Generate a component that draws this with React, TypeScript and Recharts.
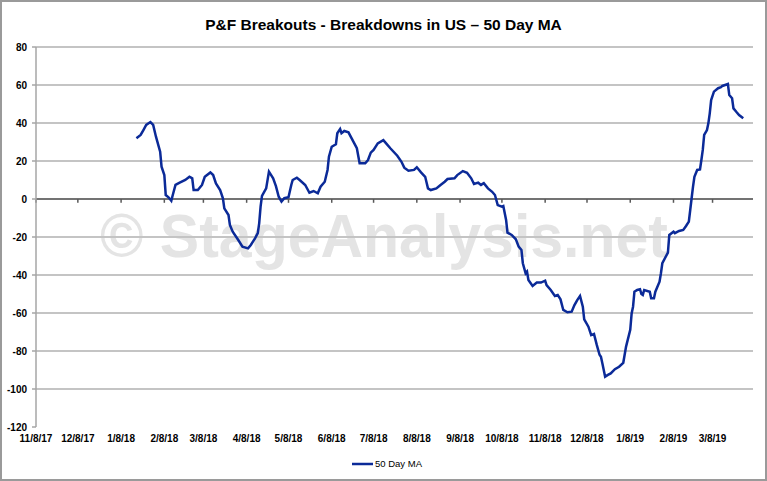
import React from "react";
import { LineChart, Line, XAxis, YAxis, ReferenceLine, CartesianGrid } from "recharts";

const title = "P&F Breakouts - Breakdowns in US \u2013 50 Day MA";
const seriesName = "50 Day MA";
const watermark = "\u00A9 StageAnalysis.net";

const axisStart = "11/8/17";
const axisEnd = "4/6/19";
const xTickDates = [
  "11/8/17", "12/8/17", "1/8/18", "2/8/18", "3/8/18", "4/8/18", "5/8/18", "6/8/18", "7/8/18",
  "8/8/18", "9/8/18", "10/8/18", "11/8/18", "12/8/18", "1/8/19", "2/8/19", "3/8/19",
];
const yTicks = [-120, -100, -80, -60, -40, -20, 0, 20, 40, 60, 80];
const gridValues = [-100, -80, -60, -40, -20, 0, 20, 40, 60, 80];

const dates = [
  "1/19/18", "1/22/18", "1/24/18", "1/26/18", "1/29/18", "1/31/18",
  "2/2/18", "2/5/18", "2/6/18", "2/8/18", "2/9/18", "2/11/18", "2/13/18", "2/14/18", "2/16/18", "2/19/18", "2/23/18", "2/26/18", "2/28/18",
  "3/1/18", "3/4/18", "3/7/18", "3/9/18", "3/13/18", "3/15/18", "3/17/18", "3/20/18", "3/22/18", "3/23/18", "3/26/18", "3/27/18", "3/29/18",
  "4/2/18", "4/5/18", "4/9/18", "4/11/18", "4/14/18", "4/16/18", "4/17/18", "4/18/18", "4/19/18", "4/22/18", "4/24/18", "4/27/18", "4/29/18",
  "5/1/18", "5/3/18", "5/5/18", "5/8/18", "5/10/18", "5/11/18", "5/14/18", "5/16/18", "5/20/18", "5/23/18", "5/26/18", "5/29/18", "5/31/18",
  "6/3/18", "6/5/18", "6/6/18", "6/8/18", "6/11/18", "6/12/18", "6/14/18", "6/15/18", "6/17/18", "6/20/18", "6/22/18", "6/26/18", "6/28/18",
  "7/2/18", "7/4/18", "7/6/18", "7/8/18", "7/11/18", "7/15/18", "7/17/18", "7/20/18", "7/25/18", "7/28/18", "7/30/18",
  "8/2/18", "8/6/18", "8/8/18", "8/11/18", "8/14/18", "8/16/18", "8/18/18", "8/22/18", "8/25/18", "8/28/18", "8/30/18",
  "9/4/18", "9/6/18", "9/10/18", "9/13/18", "9/16/18", "9/18/18", "9/21/18", "9/23/18", "9/25/18", "9/28/18",
  "10/1/18", "10/3/18", "10/5/18", "10/8/18", "10/9/18", "10/11/18", "10/12/18", "10/15/18", "10/18/18", "10/20/18", "10/22/18", "10/23/18", "10/25/18", "10/26/18", "10/27/18", "10/30/18",
  "11/2/18", "11/5/18", "11/8/18", "11/9/18", "11/12/18", "11/15/18", "11/17/18", "11/19/18", "11/21/18", "11/24/18", "11/27/18", "11/29/18",
  "12/1/18", "12/3/18", "12/5/18", "12/6/18", "12/9/18", "12/11/18", "12/13/18", "12/15/18", "12/17/18", "12/18/18", "12/19/18", "12/21/18", "12/23/18", "12/25/18", "12/28/18", "12/31/18",
  "1/3/19", "1/5/19", "1/8/19", "1/9/19", "1/10/19", "1/11/19", "1/13/19", "1/15/19", "1/16/19", "1/17/19", "1/18/19", "1/22/19", "1/23/19", "1/25/19", "1/26/19", "1/29/19", "1/30/19", "1/31/19",
  "2/4/19", "2/5/19", "2/8/19", "2/9/19", "2/12/19", "2/15/19", "2/17/19", "2/19/19", "2/20/19", "2/21/19", "2/22/19", "2/23/19", "2/25/19", "2/27/19", "2/28/19",
  "3/1/19", "3/2/19", "3/4/19", "3/5/19", "3/6/19", "3/7/19", "3/9/19", "3/12/19", "3/14/19", "3/15/19", "3/17/19", "3/19/19", "3/20/19", "3/22/19", "3/23/19", "3/25/19", "3/27/19", "3/30/19",
];

const ma50 = [
  32, 33.7, 36.3, 39, 40.5, 39,
  32.8, 24.9, 17, 12.6, 2.1, 0.9, -0.9, 2, 7.4, 8.6, 10, 11.7, 10.9,
  4.7, 4.7, 7.4, 11.7, 14, 12.6, 8.2, 4.7, 0.4, -4.9, -8.4, -13.7, -17.2,
  -21.6, -25.1, -26, -24.2, -20.7, -18, -12.8, -4, 1.6, 5.6, 14.4, 10.9, 6.8,
  1.2, -1.4, 0.4, 0.9, 7.4, 10, 11.2, 10, 7.4, 3.3, 4.2, 3, 6.5,
  9.1, 15.3, 22.3, 27.5, 28.8, 34.6, 36.8, 34.6, 35.8, 35.1, 32.3, 26.7, 18.8,
  18.8, 20.5, 24.4, 25.8, 29.3, 31, 29.3, 26.7, 22.8, 19.6, 16.5,
  14.9, 15.3, 16.7, 14, 11.7, 5.6, 4.7, 5.6, 7.4, 9.1, 10.5,
  10.9, 12.6, 14.7, 13.8, 10.9, 7.9, 8.6, 7.4, 8.3, 5.6,
  3.8, 2.1, -3.2, -4, -3.7, -11, -17.7, -18.9, -21.2, -25.1, -26.8, -33.8, -39.1, -38.2, -42.6, -45.8,
  -44, -44, -43, -45.3, -47.9, -51, -50.5, -52.8, -58.4, -59.6, -59.3, -55.8,
  -53.2, -51, -56.7, -63.3, -67.2, -71.6, -71, -76.8, -82, -83, -86.5, -93.5, -92.6, -91.8, -89.6, -88.3,
  -86.2, -77.7, -68.9, -60.2, -56.7, -48.8, -47.9, -47.5, -50, -50.5, -47.9, -48.8, -52.3, -52.3, -48.8, -43.5, -39.1, -33.8,
  -28.2, -18.9, -17.2, -18, -16.8, -16.3, -14.2, -11.9, -5.8, 0.4, 6.5, 11.7, 15.3, 15.6, 20.5,
  25.8, 33.7, 36.3, 39.8, 45.1, 52.1, 56.5, 58.3, 58.8, 59.5, 60, 60.5, 54.7, 53, 47.7, 45.9, 44.2, 42.5,
];

const toDay = (s: string) => {
  const [m, d, y] = s.split("/").map(Number);
  return Math.round(Date.UTC(2000 + y, m - 1, d) / 86400000);
};
const day0 = toDay(axisStart);
const data = dates.map((d, i) => ({ t: toDay(d) - day0, v: ma50[i] }));
const tickDays = xTickDates.map((d) => toDay(d) - day0);
const labelByDay = new Map<number, string>(tickDays.map((t, i) => [t, xTickDates[i]]));

const FONT = "'Liberation Sans', Arial, sans-serif";
const LINE_COLOR = "#0B2A98";

export default function App() {
  return (
    <div
      style={{
        position: "fixed",
        left: 0,
        top: 0,
        width: 767,
        height: 481,
        background: "#fff",
        boxSizing: "border-box",
        border: "2px solid #9a9a9a",
        overflow: "hidden",
        fontFamily: FONT,
      }}
    >
      <svg width={767} height={481} style={{ position: "absolute", left: -2, top: -2 }}>
        <text
          x={100}
          y={257}
          fontFamily={FONT}
          fontWeight={700}
          fontSize={62}
          fill="#e4e4e4"
          textLength={568}
          lengthAdjust="spacingAndGlyphs"
        >
          {watermark}
        </text>
      </svg>
      <div
        style={{
          position: "absolute",
          left: -2,
          top: 13,
          width: 767,
          textAlign: "center",
          fontSize: 15.5,
          fontWeight: 700,
          lineHeight: "20px",
          color: "#000",
        }}
      >
        {title}
      </div>
      <div style={{ position: "absolute", left: -2, top: -2 }}>
        <LineChart width={767} height={481} data={data} margin={{ top: 47, right: 14, bottom: 24, left: 0 }}>
          <CartesianGrid vertical={false} horizontalValues={gridValues} stroke="#c4c4c4" strokeWidth={2} />
          <XAxis
            type="number"
            dataKey="t"
            domain={[0, toDay(axisEnd) - day0]}
            ticks={tickDays}
            interval={0}
            allowDataOverflow
            tickFormatter={(t: number) => labelByDay.get(t) ?? ""}
            axisLine={false}
            tickLine={false}
            tickSize={4}
            tickMargin={4}
            height={30}
            tick={{ fontSize: 10, fontWeight: 700, fill: "#000", fontFamily: FONT }}
          />
          <YAxis
            type="number"
            domain={[-120, 80]}
            ticks={yTicks}
            interval={0}
            width={36}
            axisLine={{ stroke: "#a6a6a6", strokeWidth: 1.5 }}
            tickLine={{ stroke: "#a6a6a6", strokeWidth: 1.5 }}
            tickSize={4}
            tickMargin={5}
            tick={{ fontSize: 10, fontWeight: 700, fill: "#000", fontFamily: FONT }}
          />
          <ReferenceLine y={0} stroke="#595959" strokeWidth={1.5} />
          {tickDays.map((t) => (
            <ReferenceLine
              key={t}
              segment={[
                { x: t, y: 0 },
                { x: t, y: -2 },
              ]}
              stroke="#595959"
              strokeWidth={1.5}
              ifOverflow="visible"
            />
          ))}
          <Line
            type="linear"
            dataKey="v"
            name={seriesName}
            stroke={LINE_COLOR}
            strokeWidth={2.5}
            dot={false}
            activeDot={false}
            isAnimationActive={false}
          />
        </LineChart>
      </div>
      <div
        style={{
          position: "absolute",
          left: 350,
          top: 455,
          display: "flex",
          alignItems: "center",
          fontSize: 9.5,
          color: "#000",
        }}
      >
        <svg width={22} height={6}>
          <line x1={0} y1={3} x2={21} y2={3} stroke={LINE_COLOR} strokeWidth={2.5} />
        </svg>
        <span style={{ marginLeft: 1, lineHeight: "14px" }}>{seriesName}</span>
      </div>
    </div>
  );
}
